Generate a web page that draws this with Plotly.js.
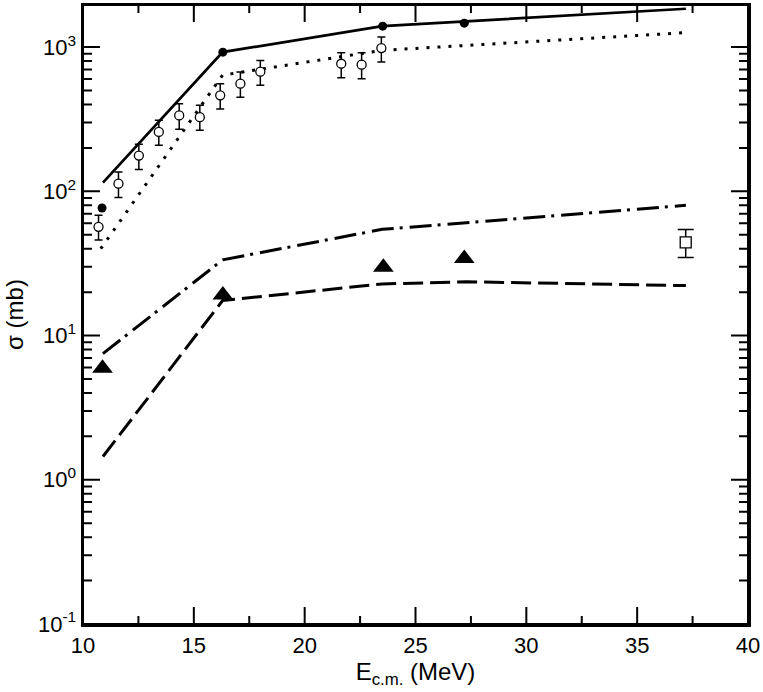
<!DOCTYPE html>
<html>
<head>
<meta charset="utf-8">
<script src="https://cdn.plot.ly/plotly-3.0.1.min.js"></script>
<style>html,body{margin:0;padding:0;background:#fff;}#chart{width:763px;height:692px;}</style>
</head>
<body>
<div id="chart"></div>
<script>
// Calculated curves
const solidX = [10.9, 16.3, 23.5, 37.2];
const solidY = [115, 923, 1397, 1845];
const dottedX = [10.8, 16.3, 23.5, 37.2];
const dottedY = [40, 640, 950, 1260];
const dashDotX = [10.9, 16.3, 23.5, 37.2];
const dashDotY = [7.5, 33.5, 54.5, 80];
const dashedX = [10.9, 16.3, 23.5, 27.3, 37.2];
const dashedY = [1.45, 17.5, 22.8, 23.6, 22.2];

// Data points
const filledCircleX = [10.86, 16.31, 23.52, 27.2];
const filledCircleY = [76.7, 923, 1397, 1466];

const openCircleX = [10.70, 11.60, 12.52, 13.42, 14.34, 15.27, 16.19, 17.10, 18.00, 21.65, 22.57, 23.46];
const openCircleY = [56.7, 113, 177, 258, 336, 327, 463, 558, 676, 767, 755, 984];
const openCircleHi = [68.3, 136, 212, 311, 405, 395, 558, 671, 809, 915, 915, 1173];
const openCircleLo = [45.9, 90.6, 141.6, 209, 269, 265, 372, 449, 543, 614, 604, 788];

const triangleX = [10.88, 16.31, 23.55, 27.2];
const triangleY = [5.93, 19.1, 29.7, 34.2];

const squareX = [37.19];
const squareY = [44.2];
const squareHi = [54.3];
const squareLo = [34.8];

// Axes
const xRange = [10, 40];
const yRangeLog = [-1, 3.292];
const xTickVals = [10, 15, 20, 25, 30, 35, 40];
const xMinorVals = [12.5, 17.5, 22.5, 27.5, 32.5, 37.5];
const yTickVals = [0.1, 1, 10, 100, 1000];
const yTickText = ['10<sup>-1</sup>', '10<sup>0</sup>', '10<sup>1</sup>', '10<sup>2</sup>', '10<sup>3</sup>'];
const yMinorMult = [2, 3, 4, 5, 6, 7, 8, 9];

const W = 763, H = 692, M = {l: 83, r: 15, t: 5, b: 68};
const plotW = W - M.l - M.r, plotH = H - M.t - M.b;

const plus = (v, e) => e.map((h, i) => h - v[i]);
const minus = (v, e) => e.map((l, i) => v[i] - l);

// Inside tick marks on all four sides: one continuous (unsimplified) path running round the frame
const pxToX = px => px / plotW * (xRange[1] - xRange[0]);
const pxToDec = px => px / plotH * (yRangeLog[1] - yRangeLog[0]);
const yLo = Math.pow(10, yRangeLog[0]), yHi = Math.pow(10, yRangeLog[1]);
const xTicks = xTickVals.map(v => [v, 17]).concat(xMinorVals.map(v => [v, 8])).sort((a, b) => a[0] - b[0]);
const yTicks = yTickVals.map(v => [v, 17]);
yTickVals.forEach(d => yMinorMult.forEach(m => yTicks.push([d * m, 9])));
const yTicksIn = yTicks.filter(t => Math.log10(t[0]) >= yRangeLog[0] && Math.log10(t[0]) <= yRangeLog[1]).sort((a, b) => a[0] - b[0]);
const tickX = [], tickY = [];
xTicks.forEach(([v, len]) => { tickX.push(v, v, v); tickY.push(yLo, yLo * Math.pow(10, pxToDec(len)), yLo); });
yTicksIn.forEach(([v, len]) => { tickX.push(xRange[1], xRange[1] - pxToX(len), xRange[1]); tickY.push(v, v, v); });
xTicks.slice().reverse().forEach(([v, len]) => { tickX.push(v, v, v); tickY.push(yHi, yHi / Math.pow(10, pxToDec(len)), yHi); });
yTicksIn.slice().reverse().forEach(([v, len]) => { tickX.push(xRange[0], xRange[0] + pxToX(len), xRange[0]); tickY.push(v, v, v); });
tickX.push(xRange[0]); tickY.push(yLo);

const traces = [
  {x: tickX, y: tickY, mode: 'lines', line: {color: '#000', width: 2, simplify: false}, hoverinfo: 'skip'},
  {x: solidX, y: solidY, mode: 'lines', line: {color: '#000', width: 2.7}},
  {x: dottedX, y: dottedY, mode: 'lines', line: {color: '#000', width: 3, dash: '3px,8px'}},
  {x: dashDotX, y: dashDotY, mode: 'lines', line: {color: '#000', width: 3, dash: '22px,6px,3px,7px'}},
  {x: dashedX, y: dashedY, mode: 'lines', line: {color: '#000', width: 3, dash: '20px,7px'}},
  {x: filledCircleX, y: filledCircleY, mode: 'markers', marker: {symbol: 'circle', size: 9, color: '#000'}},
  {x: openCircleX, y: openCircleY, mode: 'markers',
   marker: {symbol: 'circle', size: 9, color: '#fff', line: {color: '#000', width: 1.3}},
   error_y: {type: 'data', symmetric: false, array: plus(openCircleY, openCircleHi), arrayminus: minus(openCircleY, openCircleLo), color: '#000', thickness: 1.5, width: 4}},
  {x: triangleX, y: triangleY, mode: 'markers', marker: {symbol: 'triangle-up', size: 18, color: '#000'}},
  {x: squareX, y: squareY, mode: 'markers',
   marker: {symbol: 'square', size: 11, color: '#fff', line: {color: '#000', width: 1.3}},
   error_y: {type: 'data', symmetric: false, array: plus(squareY, squareHi), arrayminus: minus(squareY, squareLo), color: '#000', thickness: 1.5, width: 8}}
];

const fam = '"Liberation Sans", Arial, Helvetica, sans-serif';

const layout = {
  width: W, height: H,
  margin: M,
  paper_bgcolor: '#fff', plot_bgcolor: '#fff',
  showlegend: false,
  font: {family: fam, color: '#000'},
  xaxis: {
    range: xRange, tickmode: 'array', tickvals: xTickVals, ticks: '',
    showline: true, linewidth: 2.5, linecolor: '#000', mirror: true, showgrid: false, zeroline: false,
    tickfont: {family: fam, size: 22, color: '#000'},
    title: {text: 'E<sub>c.m.</sub> (MeV)', font: {family: fam, size: 24, color: '#000'}, standoff: 4}
  },
  yaxis: {
    type: 'log', range: yRangeLog, tickmode: 'array', tickvals: yTickVals, ticktext: yTickText, ticks: '',
    showline: true, linewidth: 2.5, linecolor: '#000', mirror: true, showgrid: false, zeroline: false,
    tickfont: {family: fam, size: 22, color: '#000'},
    title: {text: 'σ (mb)', font: {family: fam, size: 24, color: '#000'}, standoff: 8}
  }
};

Plotly.newPlot('chart', traces, layout, {displayModeBar: false, staticPlot: true});
</script>
</body>
</html>
